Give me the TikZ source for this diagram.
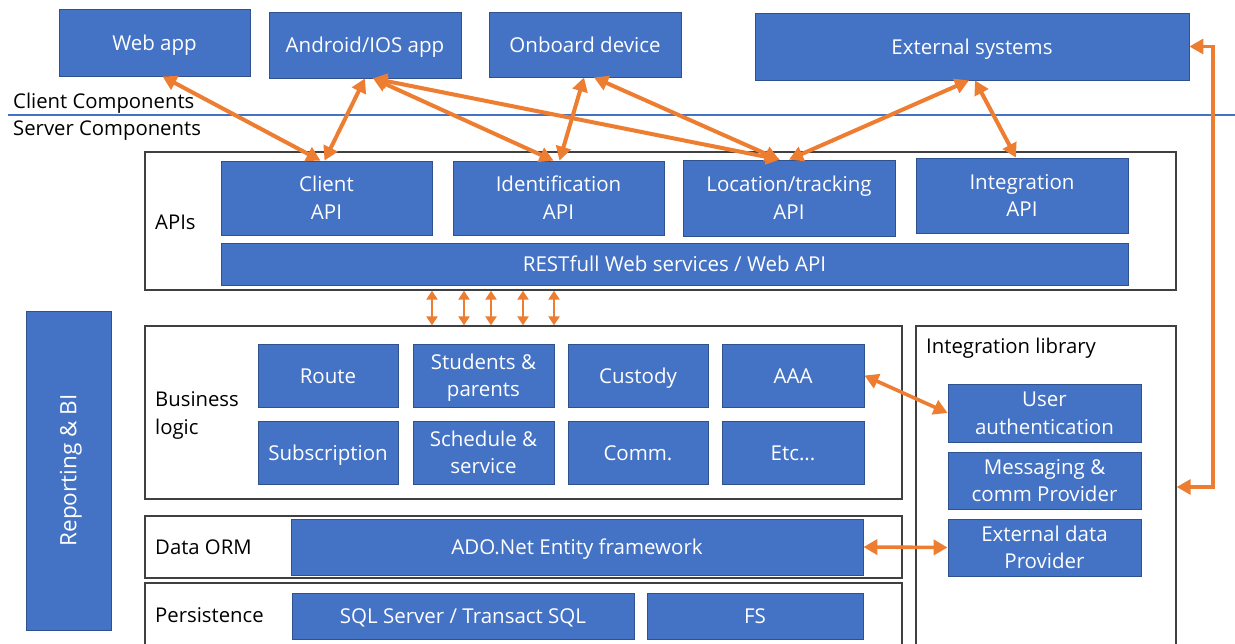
\documentclass[tikz,border=0pt]{standalone}
\usepackage{fontspec}
\setmainfont{Open Sans}
\usetikzlibrary{arrows.meta}
\definecolor{boxblue}{HTML}{4472C4}
\definecolor{boxedge}{HTML}{2F528F}
\definecolor{linkorange}{HTML}{ED7D31}
\definecolor{framegray}{HTML}{404040}
\definecolor{sepblue}{HTML}{4472C4}
\begin{document}
\begin{tikzpicture}[x=1pt,y=-1pt,
  comp/.style={draw=boxedge, line width=0.8pt, fill=boxblue, text=white, align=center,
    inner sep=0pt, text height=16.5pt, text depth=1.5pt,
    font=\fontsize{20.5}{27.5}\selectfont},
  twoline/.style={text height=44pt},
  layer/.style={draw=framegray, line width=1.3pt, inner sep=0pt},
  lbl/.style={anchor=west, inner sep=0pt, align=left, text height=16pt, text depth=1.5pt,
    font=\fontsize{20.3}{28}\selectfont},
  link/.style={draw=linkorange, line width=4pt,
    {Triangle[length=14pt,width=15pt]}-{Triangle[length=14pt,width=15pt]}},
  smalllink/.style={draw=linkorange, line width=2.8pt,
    {Triangle[length=9pt,width=11pt]}-{Triangle[length=9pt,width=11pt]}}
]
\useasboundingbox (0,0) rectangle (1235,643);

% client / server separator
\coordinate (sepL) at (8,115);
\coordinate (sepR) at (1235,115);
\draw[sepblue, line width=1.4pt] (sepL) -- (sepR);
\node[lbl] (clientlbl) at (13,101) {Client Components};
\node[lbl] (serverlbl) at (13,128) {Server Components};

% layer frames
\node[layer, minimum width=1031pt, minimum height=138pt] (apis) at (660.5,221) {};
\node[layer, minimum width=757pt, minimum height=173pt] (biz) at (523.5,412.5) {};
\node[layer, minimum width=757pt, minimum height=62pt] (orm) at (523.5,547) {};
\node[layer, minimum width=757pt, minimum height=90pt] (pers) at (523.5,628) {};
\node[layer, minimum width=260pt, minimum height=350pt] (intlib) at (1046,501) {};

% layer captions
\node[lbl] (apislbl) at (155,222) {APIs};
\node[lbl, text height=44pt] (bizlbl) at (155,413) {Business\\logic};
\node[lbl] (ormlbl) at (155,547) {Data ORM};
\node[lbl] (perslbl) at (155,615) {Persistence};
\node[lbl] (intliblbl) at (926,346) {Integration library};

% client components
\node[comp, minimum width=191pt, minimum height=67pt] (web) at (154.5,42.5) {Web app};
\node[comp, minimum width=192pt, minimum height=66pt] (andr) at (365,45) {Android/IOS app};
\node[comp, minimum width=192pt, minimum height=65pt] (onb) at (585,44.5) {Onboard device};
\node[comp, minimum width=434pt, minimum height=67pt] (ext) at (972,46.5) {External systems};

% APIs
\node[comp, twoline, minimum width=211pt, minimum height=74pt] (capi) at (326.5,198) {Client\\API};
\node[comp, twoline, minimum width=211pt, minimum height=74pt] (ident) at (558.5,198) {Identification\\API};
\node[comp, twoline, minimum width=212pt, minimum height=76pt] (loc) at (789,198) {Location/tracking\\API};
\node[comp, twoline, minimum width=212pt, minimum height=75pt] (integ) at (1022,195.5) {Integration\\API};
\node[comp, minimum width=907pt, minimum height=42pt] (rest) at (674.5,264) {RESTfull Web services / Web API};

% business logic
\node[comp, minimum width=140pt, minimum height=63pt] (route) at (328,375.5) {Route};
\node[comp, twoline, minimum width=141pt, minimum height=63pt] (stud) at (483.5,375.5) {Students \&\\parents};
\node[comp, minimum width=140pt, minimum height=63pt] (cust) at (638,375.5) {Custody};
\node[comp, minimum width=142pt, minimum height=63pt] (aaa) at (793,375.5) {AAA};
\node[comp, minimum width=140pt, minimum height=63pt] (subs) at (328,452.5) {Subscription};
\node[comp, twoline, minimum width=141pt, minimum height=63pt] (sched) at (483.5,452.5) {Schedule \&\\service};
\node[comp, minimum width=140pt, minimum height=63pt] (comm) at (638,452.5) {Comm.};
\node[comp, minimum width=142pt, minimum height=63pt] (etc) at (793,452.5) {Etc...};

% data access and storage
\node[comp, minimum width=572pt, minimum height=56pt] (ado) at (577,547) {ADO.Net Entity framework};
\node[comp, minimum width=342pt, minimum height=46pt] (sql) at (463,616) {SQL Server / Transact SQL};
\node[comp, minimum width=216pt, minimum height=46pt] (fs) at (755,616) {FS};

% integration library
\node[comp, twoline, minimum width=193pt, minimum height=58pt] (uauth) at (1044.5,413) {User\\authentication};
\node[comp, twoline, minimum width=193pt, minimum height=57pt] (msg) at (1044.5,480.5) {Messaging \&\\comm Provider};
\node[comp, twoline, minimum width=193pt, minimum height=57pt] (extdata) at (1044.5,547.5) {External data\\Provider};

% reporting
\node[comp, minimum width=85pt, minimum height=319pt] (rep) at (68.5,470.5) {};
\node[text=white, rotate=90, inner sep=0pt, text height=17pt, text depth=1.5pt,
  font=\fontsize{22.5}{28}\selectfont] (replbl) at (rep.center) {Reporting \& BI};

% client to API links
\draw[link] ([xshift=8pt]web.south) -- ([xshift=-6pt]capi.north);
\draw[link] (andr.south) -- ([xshift=-2pt]capi.north);
\draw[link] ([xshift=8pt]andr.south) -- ([xshift=-5pt]ident.north);
\draw[link] ([xshift=8pt]andr.south) -- ([xshift=-9pt]loc.north);
\draw[link] ([xshift=-1pt]onb.south) -- ([xshift=1pt]ident.north);
\draw[link] ([xshift=9pt]onb.south) -- ([xshift=-10pt]loc.north);
\draw[link] ([xshift=-3pt]ext.south) -- ([xshift=0pt]loc.north);
\draw[link] ([xshift=3pt]ext.south) -- ([xshift=-6pt]integ.north);

% API layer to business logic
\foreach \xx in {432,464,491,523,554}
  \draw[smalllink] (apis.south -| \xx,0) -- (biz.north -| \xx,0);

% integration links
\draw[link, line width=3.6pt] (aaa.east) -- (uauth.west);
\draw[link, line width=3.6pt] (ado.east) -- (extdata.west);
\coordinate (loopB) at (1213,487);
\draw[link, line width=3.2pt] (intlib.east |- loopB) -- (loopB) |- (ext.east);
\end{tikzpicture}
\end{document}
